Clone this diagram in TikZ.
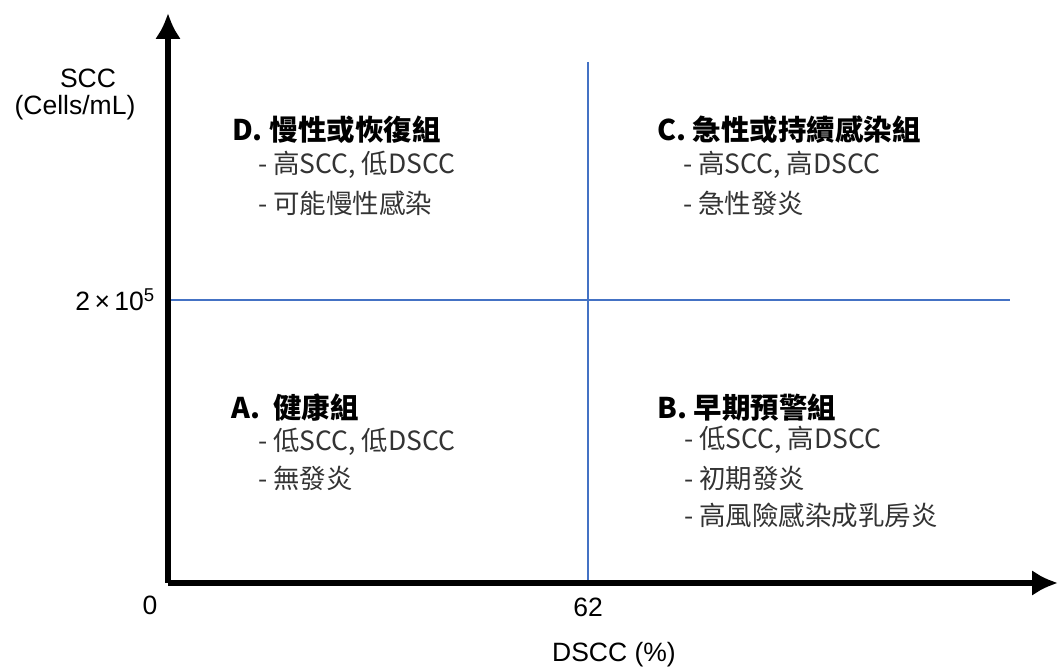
\documentclass[tikz,border=0pt]{standalone}
\usepackage{fontspec}
\setmainfont{Liberation Sans}
\newfontfamily\cjk{Noto Sans CJK TC}
\usetikzlibrary{arrows.meta}
\definecolor{quadblue}{RGB}{68,114,196}
\tikzset{
  axis/.style={line width=6pt, -{Latex[length=26pt,width=26pt]}},
  divider/.style={quadblue, line width=2pt},
  axlabel/.style={font=\fontsize{26.5}{30}\selectfont, inner sep=0pt},
  qtitle/.style={anchor=west, inner sep=0pt, font=\cjk\bfseries\fontsize{28.5}{32}\selectfont},
  qline/.style={anchor=west, inner sep=0pt, font=\cjk\fontsize{26.5}{30}\selectfont, text=black!80}
}
\begin{document}
\begin{tikzpicture}[x=1pt,y=1pt]
\useasboundingbox (0,0) rectangle (1059,668);
% axes
\coordinate (origin) at (168,85);
\coordinate (ytop) at (168,655);
\coordinate (xend) at (1058,85);
\coordinate (vtop) at (588,606);
\coordinate (vbot) at (588,83);
\coordinate (hleft) at (168,368);
\coordinate (hright) at (1010,368);
\draw[divider] (vtop) -- (vbot);
\draw[divider] (hleft) -- (hright);
\draw[axis] (origin) -- (ytop);
\draw[axis] (origin) -- (xend);
% axis labels
\node[axlabel] (scc) at (88,590) {SCC};
\node[axlabel] (cells) at (75,560) {(Cells/mL)};
\node[axlabel, anchor=east] (tick) at (155,368) {2\,×\,10\textsuperscript{5}};
\node[axlabel] (zero) at (150,63) {0};
\node[axlabel] (sixtytwo) at (588,61) {62};
\node[axlabel] (dscc) at (614,13) {DSCC (\%)};
% quadrant D
\node[qtitle] (dt) at (232,538) {D. 慢性或恢復組};
\node[qline] (d1) at (258,503) {- 高SCC, 低DSCC};
\node[qline] (d2) at (258,465) {- 可能慢性感染};
% quadrant C
\node[qtitle] (ct) at (657,538) {C. 急性或持續感染組};
\node[qline] (c1) at (683,503) {- 高SCC, 高DSCC};
\node[qline] (c2) at (683,465) {- 急性發炎};
% quadrant A
\node[qtitle] (at) at (231,260) {A.\ \ 健康組};
\node[qline] (a1) at (258,226) {- 低SCC, 低DSCC};
\node[qline] (a2) at (258,190) {- 無發炎};
% quadrant B
\node[qtitle] (bt) at (657,260) {B. 早期預警組};
\node[qline] (b1) at (684,228) {- 低SCC, 高DSCC};
\node[qline] (b2) at (684,190) {- 初期發炎};
\node[qline] (b3) at (684,153) {- 高風險感染成乳房炎};
\end{tikzpicture}
\end{document}
